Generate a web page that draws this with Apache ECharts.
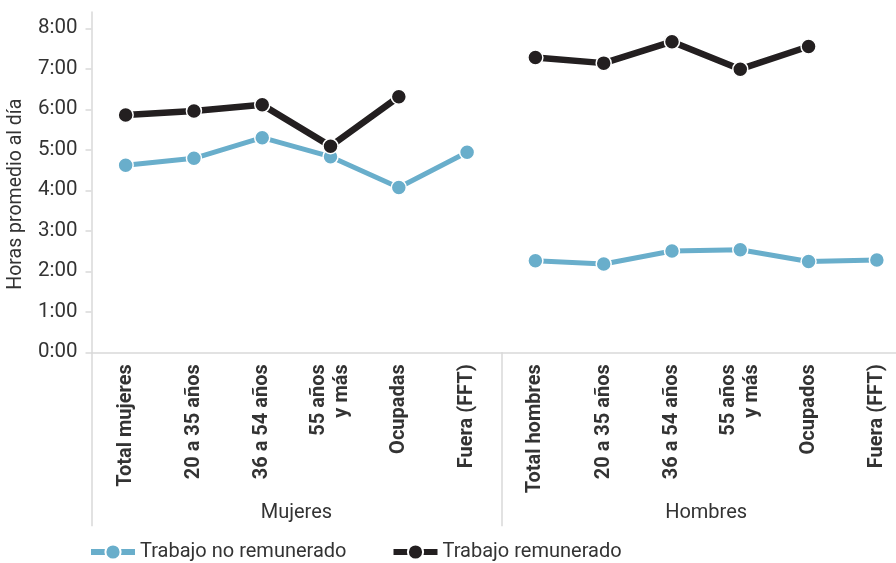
<!DOCTYPE html>
<html>
<head>
<meta charset="utf-8">
<script src="https://cdn.jsdelivr.net/npm/echarts@6/dist/echarts.min.js"></script>
<style>
  html, body { margin: 0; padding: 0; background: #fff; }
  #chart { width: 896px; height: 563px; }
</style>
</head>
<body>
<div id="chart"></div>
<script>
// Categories (bottom axis) and the two groups below them
const categories = [
  'Total mujeres', '20 a 35 años', '36 a 54 años', '55 años\ny más', 'Ocupadas', 'Fuera (FFT)',
  'Total hombres', '20 a 35 años', '36 a 54 años', '55 años\ny más', 'Ocupados', 'Fuera (FFT)'
];
const groups = ['Mujeres', 'Hombres'];

// Hours per day (decimal hours)
const noRemuneradoMujeres = [4.62, 4.79, 5.30, 4.83, 4.07, 4.94];
const noRemuneradoHombres = [2.26, 2.18, 2.50, 2.53, 2.24, 2.28];
const remuneradoMujeres = [5.86, 5.96, 6.11, 5.09, 6.31, null];
const remuneradoHombres = [7.28, 7.14, 7.67, 6.99, 7.55, null];

const yTicks = [0, 1, 2, 3, 4, 5, 6, 7, 8];

const BLUE = '#69aecb';
const BLACK = '#231f20';
const GRID = '#d9d9d9';
const TEXT = '#333333';

const blank = [null, null, null, null, null, null];

function lineSeries(name, color, width, data) {
  return {
    name: name,
    type: 'line',
    data: data,
    connectNulls: false,
    symbol: 'circle',
    symbolSize: 15,
    lineStyle: { color: color, width: width },
    itemStyle: { color: color, borderColor: '#ffffff', borderWidth: 1.5 },
    emphasis: { disabled: true },
    z: name === 'Trabajo remunerado' ? 3 : 2
  };
}

const chart = echarts.init(document.getElementById('chart'), null, { renderer: 'canvas' });

chart.setOption({
  animation: false,
  backgroundColor: '#ffffff',
  textStyle: { fontFamily: 'Roboto, "Noto Sans", sans-serif', color: TEXT },
  grid: {
    left: 91.5, right: -15, top: 12.1, bottom: 210.7,
    containLabel: false,
    outerBoundsMode: 'none'
  },
  legend: {
    left: 83,
    bottom: -4,
    itemWidth: 44,
    itemHeight: 19,
    itemGap: 44,
    lineStyle: { width: 6 },
    textStyle: { fontSize: 20, color: TEXT, fontFamily: 'Roboto, sans-serif' },
    data: ['Trabajo no remunerado', 'Trabajo remunerado']
  },
  xAxis: [
    {
      type: 'category',
      data: categories,
      boundaryGap: true,
      axisLine: { show: true, lineStyle: { color: GRID, width: 1.5 } },
      axisTick: { show: false },
      axisLabel: {
        rotate: 90,
        interval: 0,
        margin: 12,
        fontSize: 20,
        fontWeight: 'bold',
        lineHeight: 23,
        color: TEXT,
        fontFamily: 'Roboto, sans-serif'
      }
    },
    {
      type: 'category',
      data: groups,
      position: 'bottom',
      boundaryGap: true,
      axisLine: { show: false },
      axisTick: { show: true, length: 174, lineStyle: { color: GRID, width: 1.5 } },
      axisLabel: { margin: 151, fontSize: 20, color: TEXT }
    }
  ],
  yAxis: {
    type: 'value',
    min: 0,
    max: 8.4,
    name: 'Horas promedio al día',
    nameLocation: 'middle',
    nameGap: 65,
    nameTextStyle: { fontSize: 19.5, color: TEXT, padding: [0, 24, 0, 0] },
    axisLine: { show: true, lineStyle: { color: GRID, width: 1.5 } },
    axisTick: { show: true, length: 6, customValues: yTicks, lineStyle: { color: GRID, width: 1.5 } },
    splitLine: { show: false },
    axisLabel: {
      customValues: yTicks,
      margin: 14,
      fontSize: 20.5,
      color: TEXT,
      formatter: function (v) { return v + ':00'; }
    }
  },
  series: [
    lineSeries('Trabajo no remunerado', BLUE, 5, noRemuneradoMujeres.concat(blank)),
    lineSeries('Trabajo no remunerado', BLUE, 5, blank.concat(noRemuneradoHombres)),
    lineSeries('Trabajo remunerado', BLACK, 6.5, remuneradoMujeres.concat(blank)),
    lineSeries('Trabajo remunerado', BLACK, 6.5, blank.concat(remuneradoHombres))
  ]
});
</script>
</body>
</html>
